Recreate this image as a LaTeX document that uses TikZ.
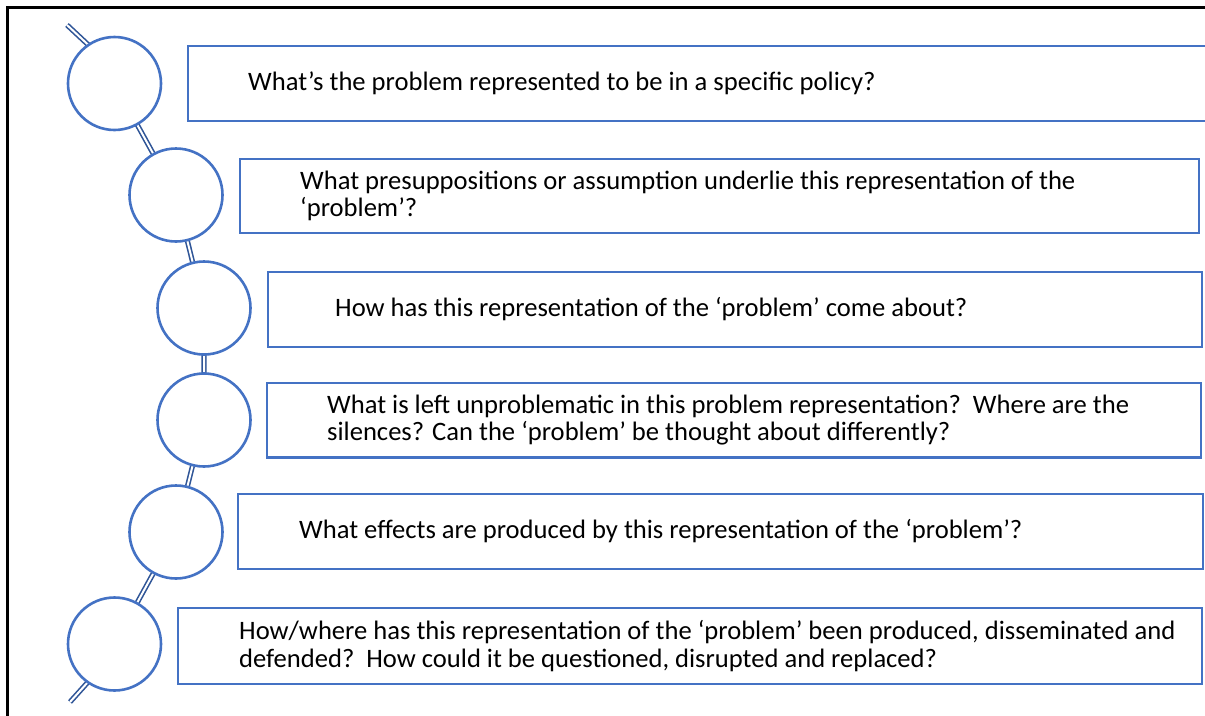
\documentclass[tikz,border=0pt]{standalone}
\usepackage{fontspec}
\setmainfont{Carlito}
\usetikzlibrary{backgrounds}
\definecolor{cblue}{HTML}{4472C4}
\definecolor{dblue}{HTML}{2F5597}
\begin{document}
\begin{tikzpicture}[x=1pt,y=-1pt,
  ring/.style={circle,draw=cblue,line width=2.6pt,fill=white,minimum size=93pt,inner sep=0pt,outer sep=0pt},
  qbox/.style={draw=cblue,line width=2.5pt,inner sep=0pt,outer sep=0pt,anchor=north west},
  chain/.style={draw=dblue,double=white,line width=1.6pt,double distance=2pt},
  qtext/.style={anchor=west,align=left,font=\fontsize{26.6}{27.5}\selectfont,inner sep=0pt,text=black},
  frame/.style={draw=black,line width=2.4pt}]
\useasboundingbox (0,0) rectangle (1205,715);
\draw[frame] (7.3,725) -- (7.3,7.3) -- (1215,7.3);
% boxes
\node[qbox,minimum width=1030pt,minimum height=75pt] (b1) at (188,46) {};
\node[qbox,minimum width=959pt,minimum height=74pt] (b2) at (240,159) {};
\node[qbox,minimum width=934pt,minimum height=75pt] (b3) at (268,272) {};
\node[qbox,minimum width=934pt,minimum height=74.5pt] (b4) at (267,383) {};
\node[qbox,minimum width=965pt,minimum height=75pt] (b5) at (238,494) {};
\node[qbox,minimum width=1024pt,minimum height=76pt] (b6) at (178,608) {};
% circles
\node[ring] (c1) at (114.5,83.5) {};
\node[ring] (c2) at (176,195) {};
\node[ring] (c3) at (204,308) {};
\node[ring] (c4) at (204,420) {};
\node[ring] (c5) at (176,532) {};
\node[ring] (c6) at (114.5,644) {};
\coordinate (top) at (67,25);
\coordinate (topin) at (97,53);
\coordinate (bot) at (70,702);
\coordinate (botin) at (97,672);
\begin{scope}[on background layer]
\draw[chain] (top) -- (topin);
\draw[chain] (c1.center) -- (c2.center) -- (c3.center) -- (c4.center) -- (c5.center) -- (c6.center);
\draw[chain] (botin) -- (bot);
\end{scope}
% texts
\node[qtext] (t1) at (248,83.5) {What’s the problem represented to be in a specific policy?};
\node[qtext] (t2) at (300,196) {What presuppositions or assumption underlie this representation of the\\‘problem’?};
\node[qtext] (t3) at (335,309.5) {How has this representation of the ‘problem’ come about?};
\node[qtext] (t4) at (327,420) {What is left unproblematic in this problem representation?\ \ Where are the\\silences? Can the ‘problem’ be thought about differently?};
\node[qtext] (t5) at (299,531.5) {What effects are produced by this representation of the ‘problem’?};
\node[qtext] (t6) at (239,646) {How/where has this representation of the ‘problem’ been produced, disseminated and\\defended?\ \ How could it be questioned, disrupted and replaced?};
\end{tikzpicture}
\end{document}
